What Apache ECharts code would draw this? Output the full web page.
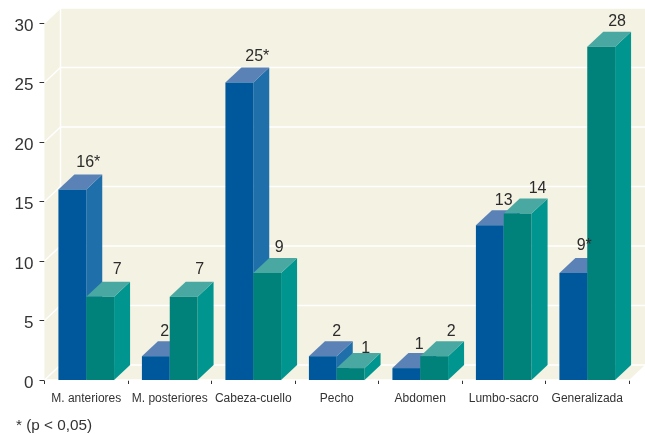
<!DOCTYPE html>
<html>
<head>
<meta charset="utf-8">
<style>
html, body { margin: 0; padding: 0; background: #fff; }
#main { width: 645px; height: 434px; }
</style>
<script src="https://cdn.jsdelivr.net/npm/echarts@6/dist/echarts.min.js"></script>
</head>
<body>
<div id="main"></div>
<script>
var categories = ['M. anteriores', 'M. posteriores', 'Cabeza-cuello', 'Pecho', 'Abdomen', 'Lumbo-sacro', 'Generalizada'];
var blueValues = [16, 2, 25, 2, 1, 13, 9];
var greenValues = [7, 7, 9, 1, 2, 14, 28];
var blueLabels = ['16*', '2', '25*', '2', '1', '13', '9*'];
var greenLabels = ['7', '7', '9', '1', '2', '14', '28'];
var yTicks = [0, 5, 10, 15, 20, 25, 30];
var footnote = '* (p < 0,05)';

var FONT = '"Liberation Sans", Arial, sans-serif';
var DX = 16, DY = 15;
var WALL = '#f4f2e2';

// the value labels were placed by hand in the original, so they need small nudges
var blueNudge = [[2, -1], [-5, 1], [4, 0], [0, 1], [-1, 2], [0, 1], [-3, -1]];
var greenNudge = [[3, -1], [2, -1], [-2, 1], [1, 6], [3, 1], [6, 1], [2, 1]];

// one box: front, side, top. side 0 = blue is left of the band centre, 1 = green right of it
var makeBar = function(colors, side) {
    return function(params, api) {
        var cat = api.value(0),
            top = api.coord([cat, api.value(1)]),
            base = api.coord([cat, 0]),
            w = api.size([1, 0])[0] / 3,
            x0 = top[0] - w + side * w,
            x1 = x0 + w,
            y0 = top[1],
            y1 = base[1];
        return {
            type: 'group',
            children: [{
                type: 'polygon',
                shape: { points: [[x1, y1], [x1 + DX, y1 - DY], [x1 + DX, y0 - DY], [x1, y0]] },
                style: { fill: colors[1] }
            }, {
                type: 'polygon',
                shape: { points: [[x0, y0], [x1, y0], [x1 + DX, y0 - DY], [x0 + DX, y0 - DY]] },
                style: { fill: colors[2] }
            }, {
                type: 'rect',
                shape: { x: x0, y: y0, width: w, height: y1 - y0 },
                style: { fill: colors[0] }
            }]
        };
    };
};

var makeLabel = function(texts, nudge, side) {
    return function(params, api) {
        var cat = api.value(0),
            top = api.coord([cat, api.value(1)]),
            w = api.size([1, 0])[0] / 3,
            n = nudge[params.dataIndex];
        return {
            type: 'text',
            style: {
                text: texts[params.dataIndex],
                x: top[0] + side * w + n[0],
                y: top[1] - DY - 11 + n[1],
                align: 'center',
                verticalAlign: 'middle',
                font: '16px ' + FONT,
                fill: '#2b2b2b'
            }
        };
    };
};

var renderWall = function(params, api) {
    var g = params.coordSys,
        l = g.x, r = g.x + g.width, t = g.y, b = g.y + g.height;
    return {
        type: 'group',
        children: [{
            type: 'polygon',
            shape: { points: [[l, b], [l + DX, b - DY], [l + DX, t - DY], [l, t]] },
            style: { fill: WALL }
        }, {
            type: 'rect',
            shape: { x: l + DX, y: t - DY, width: g.width, height: g.height },
            style: { fill: WALL }
        }, {
            type: 'polygon',
            shape: { points: [[l, b], [r, b], [r + DX, b - DY], [l + DX, b - DY]] },
            style: { fill: WALL }
        }, {
            type: 'line',
            shape: { x1: l + DX, y1: t - DY, x2: l + DX, y2: b - DY },
            style: { stroke: '#fff', lineWidth: 1.5 }
        }, {
            type: 'line',
            shape: { x1: l, y1: b, x2: r + DX, y2: b },
            style: { stroke: '#fff', lineWidth: 1.5 }
        }]
    };
};

var renderGridLine = function(params, api) {
    var g = params.coordSys,
        y = api.coord([0, api.value(0)])[1];
    return {
        type: 'polyline',
        shape: { points: [[g.x, y], [g.x + DX, y - DY], [g.x + g.width + DX, y - DY]] },
        style: { stroke: '#fff', lineWidth: 1.5, fill: null }
    };
};

var pairs = function(values) {
    return values.map(function(v, i) { return [i, v]; });
};

var myChart = echarts.init(document.getElementById('main'));
myChart.setOption({
    animation: false,
    backgroundColor: '#fff',
    grid: { left: 44.5, right: 16, top: 23, bottom: 54 },
    xAxis: {
        type: 'category',
        data: categories,
        axisLine: { show: false },
        axisTick: { show: true, length: 4, lineStyle: { color: '#333', width: 1 } },
        axisLabel: { color: '#333', fontFamily: FONT, fontSize: 12, margin: 13, interval: 0 }
    },
    yAxis: {
        type: 'value',
        min: 0,
        max: 30,
        interval: 5,
        axisLine: { show: false },
        axisTick: { show: true, length: 5, lineStyle: { color: '#333', width: 1 } },
        axisLabel: {
            margin: 11,
            formatter: '{a|{value}}',
            rich: { a: { color: '#333', fontFamily: FONT, fontSize: 17, padding: [6, 0, 0, 0] } }
        },
        splitLine: { show: false }
    },
    graphic: [{
        type: 'text',
        left: 16,
        top: 418,
        style: { text: footnote, font: '15.3px ' + FONT, fill: '#333' }
    }],
    series: [
        { type: 'custom', silent: true, z: 1, data: [[0]], renderItem: renderWall },
        { type: 'custom', silent: true, z: 2, data: yTicks.map(function(v) { return [v]; }), renderItem: renderGridLine, encode: { y: 0 } },
        { type: 'custom', silent: true, z: 3, data: pairs(blueValues), renderItem: makeBar(['#00589c', '#1f6fab', '#5b82b6'], 0), encode: { x: 0, y: 1 } },
        { type: 'custom', silent: true, z: 4, data: pairs(greenValues), renderItem: makeBar(['#00827a', '#00958f', '#4aa8a2'], 1), encode: { x: 0, y: 1 } },
        { type: 'custom', silent: true, z: 5, data: pairs(blueValues), renderItem: makeLabel(blueLabels, blueNudge, 0), encode: { x: 0, y: 1 } },
        { type: 'custom', silent: true, z: 5, data: pairs(greenValues), renderItem: makeLabel(greenLabels, greenNudge, 1), encode: { x: 0, y: 1 } }
    ]
});
</script>
</body>
</html>
